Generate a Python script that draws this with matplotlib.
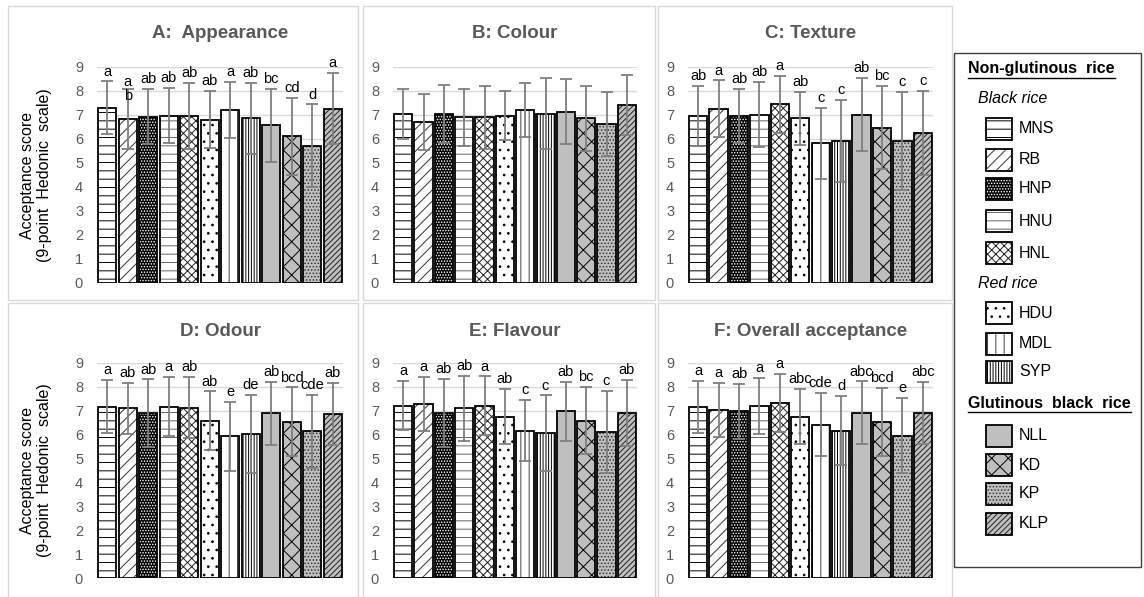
import matplotlib
matplotlib.use('Agg')
import matplotlib.pyplot as plt
from matplotlib.patches import Rectangle
from matplotlib.lines import Line2D
import numpy as np

plt.rcParams['font.family'] = ['Liberation Sans', 'DejaVu Sans']
plt.rcParams['hatch.linewidth'] = 0.7

W, H = 1144, 597

cultivars = ['MNS', 'RB', 'HNP', 'HNU', 'HNL', 'HDU', 'MDL', 'SYP', 'NLL', 'KD', 'KP', 'KLP']

appearance = [7.31, 6.83, 6.93, 6.97, 6.97, 6.81, 7.20, 6.86, 6.57, 6.12, 5.72, 7.27]
appearance_sd = [1.09, 1.26, 1.14, 1.15, 1.38, 1.18, 1.17, 1.49, 1.51, 1.60, 1.72, 1.47]
appearance_letters = ['a', 'a\nb', 'ab', 'ab', 'ab', 'ab', 'a', 'ab', 'bc', 'cd', 'd', 'a']

colour = [7.04, 6.72, 7.04, 6.90, 6.90, 6.97, 7.20, 7.06, 7.13, 6.86, 6.62, 7.41]
colour_sd = [1.03, 1.16, 1.19, 1.18, 1.32, 1.01, 1.13, 1.47, 1.35, 1.34, 1.32, 1.25]
colour_letters = [''] * 12

texture = [6.97, 7.26, 6.95, 7.02, 7.44, 6.86, 5.82, 5.93, 7.02, 6.47, 5.93, 6.27]
texture_sd = [1.25, 1.18, 1.13, 1.37, 1.20, 1.09, 1.47, 1.71, 1.51, 1.74, 2.04, 1.75]
texture_letters = ['ab', 'a', 'ab', 'ab', 'a', 'ab', 'c', 'c', 'ab', 'bc', 'c', 'c']

odour = [7.17, 7.10, 6.90, 7.17, 7.13, 6.59, 5.93, 6.04, 6.90, 6.55, 6.14, 6.86]
odour_sd = [1.12, 1.08, 1.41, 1.23, 1.29, 1.22, 1.44, 1.63, 1.32, 1.43, 1.53, 1.30]
odour_letters = ['a', 'ab', 'ab', 'a', 'ab', 'ab', 'e', 'de', 'ab', 'bcd', 'cde', 'ab']

flavour = [7.22, 7.27, 6.91, 7.11, 7.21, 6.76, 6.17, 6.06, 6.98, 6.59, 6.10, 6.91]
flavour_sd = [1.03, 1.13, 1.42, 1.36, 1.23, 1.17, 1.28, 1.58, 1.24, 1.42, 1.72, 1.38]
flavour_letters = ['a', 'a', 'ab', 'ab', 'a', 'ab', 'c', 'c', 'ab', 'bc', 'c', 'ab']

overall = [7.15, 7.04, 6.97, 7.21, 7.32, 6.76, 6.41, 6.17, 6.91, 6.52, 5.96, 6.91]
overall_sd = [1.10, 1.14, 1.16, 1.18, 1.22, 1.17, 1.32, 1.45, 1.32, 1.43, 1.58, 1.31]
overall_letters = ['a', 'a', 'ab', 'a', 'a', 'abc', 'cde', 'd', 'abc', 'bcd', 'e', 'abc']

panels = [
    ('A:  Appearance', appearance, appearance_sd, appearance_letters),
    ('B: Colour', colour, colour_sd, colour_letters),
    ('C: Texture', texture, texture_sd, texture_letters),
    ('D: Odour', odour, odour_sd, odour_letters),
    ('E: Flavour', flavour, flavour_sd, flavour_letters),
    ('F: Overall acceptance', overall, overall_sd, overall_letters),
]

# face colour, hatch, hatch colour
GREY = '#bfbfbf'
styles = {
    'MNS': ('white', '--', 'black'),
    'RB': ('white', '///', '#333333'),
    'HNP': ('black', '......', 'white'),
    'HNU': ('white', '--', '#666666'),
    'HNL': ('white', 'xxxx', '#222222'),
    'HDU': ('white', '..', 'black'),
    'MDL': ('white', '||', '#444444'),
    'SYP': ('white', '||||||', 'black'),
    'NLL': (GREY, None, 'black'),
    'KD': (GREY, 'xx', 'black'),
    'KP': (GREY, '.....', '#333333'),
    'KLP': (GREY, '//////', '#222222'),
}


def px_rect(x0, y0, x1, y1):
    # pixel box (top-left origin) -> figure fraction [l, b, w, h]
    return [x0 / W, 1 - y1 / H, (x1 - x0) / W, (y1 - y0) / H]


fig = plt.figure(figsize=(W / 100, H / 100), dpi=100)

# panel frames
frames = [(8, 6, 358, 300), (363, 6, 655, 300), (658, 6, 952, 300),
          (8, 303, 358, 600), (363, 303, 655, 600), (658, 303, 952, 600)]
for fx0, fy0, fx1, fy1 in frames:
    l, b, w, h = px_rect(fx0, fy0, fx1, fy1)
    fig.add_artist(Rectangle((l, b), w, h, transform=fig.transFigure,
                             fill=False, edgecolor='#d9d9d9', lw=1))

cols = [(97, 343), (393, 637), (688, 933)]
rows = [(67, 283), (363, 578)]
title_y = [34, 331]

x = np.arange(len(cultivars))
for k, (title, vals, sd, letters) in enumerate(panels):
    r, c = divmod(k, 3)
    ax = fig.add_axes(px_rect(cols[c][0], rows[r][0], cols[c][1], rows[r][1]))
    for i, name in enumerate(cultivars):
        fc, hatch, hc = styles[name]
        ax.bar(x[i], vals[i], 0.9, color=fc, hatch=hatch, edgecolor=hc,
               linewidth=0, zorder=2)
        ax.bar(x[i], vals[i], 0.9, fill=False, edgecolor='black',
               linewidth=1.3, zorder=3)
    ax.errorbar(x, vals, yerr=sd, fmt='none', ecolor='#7f7f7f',
                elinewidth=1.3, capsize=4, capthick=1.3, zorder=4)
    for i, lab in enumerate(letters):
        if '\n' in lab:
            ax.text(x[i], vals[i] + sd[i], lab, ha='center', va='center',
                    fontsize=10.5, linespacing=1.0, clip_on=False, zorder=5)
        else:
            ax.text(x[i], vals[i] + sd[i] + 0.12, lab, ha='center', va='bottom',
                    fontsize=10.5, clip_on=False, zorder=5)
    ax.set_xlim(-0.5, 11.5)
    ax.set_ylim(0, 9)
    ax.set_yticks(range(10))
    ax.set_xticks([])
    ax.grid(axis='y', color='#d9d9d9', lw=1)
    ax.set_axisbelow(True)
    for s in ax.spines.values():
        s.set_visible(False)
    ax.tick_params(axis='y', length=0, labelsize=10.5, labelcolor='#595959', pad=10)
    cx = (cols[c][0] + cols[c][1]) / 2
    fig.text(cx / W, 1 - title_y[r] / H, title, ha='center', va='center',
             fontsize=13.5, fontweight='bold', color='#595959')
    if c == 0:
        cy = (rows[r][0] + rows[r][1]) / 2
        fig.text(36 / W, 1 - cy / H, 'Acceptance score\n(9-point  Hedonic  scale)',
                 rotation=90, ha='center', va='center', multialignment='center',
                 fontsize=11.5)

# legend box
l, b, w, h = px_rect(954, 53, 1141, 567)
fig.add_artist(Rectangle((l, b), w, h, transform=fig.transFigure,
                         fill=False, edgecolor='#404040', lw=1))

headings = [('Non-glutinous  rice', 968, 69), ('Glutinous  black  rice', 968, 403)]
subheads = [('Black rice', 978, 99), ('Red rice', 978, 283)]
entry_y = [129, 160, 189, 221, 253, 313, 344, 372, 436, 465, 494, 524]

fig.canvas.draw()
renderer = fig.canvas.get_renderer()
for txt, hx, hy in headings:
    t = fig.text(hx / W, 1 - hy / H, txt, ha='left', va='center',
                 fontsize=11.5, fontweight='bold')
    bb = t.get_window_extent(renderer=renderer)
    uy = bb.y0 - 1
    fig.add_artist(Line2D([bb.x0 / W, bb.x1 / W], [uy / H, uy / H],
                          transform=fig.transFigure, color='black', lw=1))
for txt, hx, hy in subheads:
    fig.text(hx / W, 1 - hy / H, txt, ha='left', va='center',
             fontsize=11.5, fontstyle='italic')

for name, ey in zip(cultivars, entry_y):
    fc, hatch, hc = styles[name]
    l, b, w, h = px_rect(986, ey - 11, 1012, ey + 11)
    fig.add_artist(Rectangle((l, b), w, h, transform=fig.transFigure,
                             facecolor=fc, hatch=hatch, edgecolor=hc, lw=0))
    fig.add_artist(Rectangle((l, b), w, h, transform=fig.transFigure,
                             fill=False, edgecolor='black', lw=1.3))
    fig.text(1019 / W, 1 - ey / H, name, ha='left', va='center', fontsize=11.5)

fig.savefig('out.png', dpi=100, facecolor='white')
